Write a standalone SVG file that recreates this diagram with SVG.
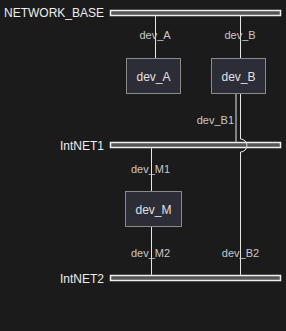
<svg xmlns="http://www.w3.org/2000/svg" width="286" height="331" viewBox="0 0 286 331">
<style>
.bar{fill:#555555;stroke:#eeeeee;stroke-width:1.5}
.node{fill:#2d2d38;stroke:#8a8a8a;stroke-width:1}
.wire{fill:none;stroke:#e6e6e6;stroke-width:1}
.bl{font-family:"Liberation Sans",Arial,sans-serif;font-size:12px;fill:#eeeeee;text-anchor:end;dominant-baseline:central}
.nt{font-family:"Liberation Sans",Arial,sans-serif;font-size:12px;fill:#e0e0e0;text-anchor:middle;dominant-baseline:central}
.el{font-family:"Liberation Sans",Arial,sans-serif;font-size:11px;fill:#c8c8c8;dominant-baseline:central}
</style>
<rect width="286" height="331" fill="#1b1b1b"/>
<g id="NETWORK_BASE">
<rect class="bar" x="110.5" y="10.5" width="170" height="5"/>
<text class="bl" x="104" y="13">NETWORK_BASE</text>
</g>
<g id="IntNET1">
<rect class="bar" x="110.5" y="142.5" width="170" height="5"/>
<text class="bl" x="104" y="145.5">IntNET1</text>
</g>
<g id="IntNET2">
<rect class="bar" x="110.5" y="275.5" width="170" height="5"/>
<text class="bl" x="104" y="278.5">IntNET2</text>
</g>
<g id="connectors">
<line class="wire" x1="155.5" y1="16" x2="155.5" y2="58.5"/>
<line class="wire" x1="240.5" y1="16" x2="240.5" y2="58.5"/>
<line class="wire" x1="236" y1="93.5" x2="236" y2="141.8"/>
<path class="wire" d="M240.5 93.5 V139 A6.5 6.5 0 0 1 240.5 152 V274.8"/>
<line class="wire" x1="151.5" y1="148.2" x2="151.5" y2="191.5"/>
<line class="wire" x1="151.5" y1="226.5" x2="151.5" y2="274.8"/>
<text class="el" x="155" y="35" text-anchor="middle">dev_A</text>
<text class="el" x="240" y="35" text-anchor="middle">dev_B</text>
<text class="el" x="234" y="119.5" text-anchor="end">dev_B1</text>
<text class="el" x="150.5" y="168.5" text-anchor="middle">dev_M1</text>
<text class="el" x="150.5" y="252.5" text-anchor="middle">dev_M2</text>
<text class="el" x="240.5" y="252.5" text-anchor="middle">dev_B2</text>
</g>
<g id="dev_A">
<rect class="node" x="126.5" y="58.5" width="54" height="35"/>
<text class="nt" x="153.5" y="76.5">dev_A</text>
</g>
<g id="dev_B">
<rect class="node" x="211.5" y="58.5" width="54" height="35"/>
<text class="nt" x="238.5" y="76.5">dev_B</text>
</g>
<g id="dev_M">
<rect class="node" x="125.5" y="191.5" width="56" height="35"/>
<text class="nt" x="153.5" y="209.5">dev_M</text>
</g>
</svg>
